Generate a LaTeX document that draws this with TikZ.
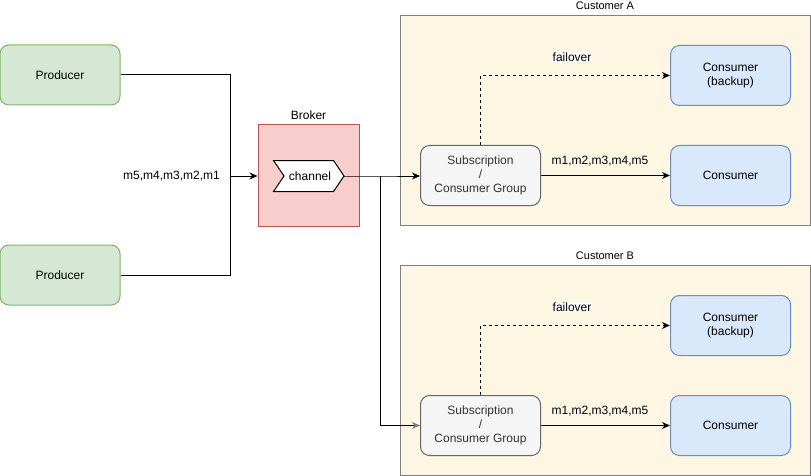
\documentclass[tikz,border=0pt]{standalone}
\usepackage{fontspec}
\setmainfont{Liberation Sans}
\usetikzlibrary{arrows.meta}
\definecolor{prodfill}{HTML}{D5E8D4}
\definecolor{prodline}{HTML}{82B366}
\definecolor{brokfill}{HTML}{F8CECC}
\definecolor{brokline}{HTML}{B85450}
\definecolor{consfill}{HTML}{DAE8FC}
\definecolor{consline}{HTML}{6C8EBF}
\definecolor{subfill}{HTML}{F5F5F5}
\definecolor{subline}{HTML}{666666}
\definecolor{subtext}{HTML}{333333}
\definecolor{custfill}{HTML}{FDF6E3}
\definecolor{custline}{HTML}{808080}
\definecolor{tipgray}{HTML}{7F7F7F}
\tikzset{
  base/.style={font=\fontsize{12}{14}\selectfont, align=center, line width=1pt, inner sep=0pt},
  prodbox/.style={base, draw=prodline, fill=prodfill, rounded corners=9pt,
    minimum width=120pt, minimum height=60pt},
  consbox/.style={base, draw=consline, fill=consfill, rounded corners=9pt,
    minimum width=120pt, minimum height=60pt},
  subbox/.style={base, draw=subline, fill=subfill, text=subtext, rounded corners=9pt,
    minimum width=120pt, minimum height=60pt},
  groupbox/.style={draw=custline, fill=custfill, line width=1pt},
  grouplabel/.style={font=\fontsize{11}{13}\selectfont, inner sep=0pt},
  plainlabel/.style={font=\fontsize{12}{14}\selectfont, inner sep=0pt},
  flow/.style={line width=1pt, -{Stealth[length=8pt,width=7pt,inset=2.5pt]}},
  backupflow/.style={flow, dash pattern=on 3pt off 3pt},
}
\begin{document}
\begin{tikzpicture}[x=1pt, y=-1pt]
\useasboundingbox (0,0) rectangle (811,476);

% customer groups
\draw[groupbox] (400.5,15.5) rectangle (810.5,225.5);
\node[grouplabel] (custA) at (605,6) {Customer A};
\draw[groupbox] (400.5,265.5) rectangle (810.5,475.5);
\node[grouplabel] (custB) at (605,256) {Customer B};

% producers
\node[prodbox] (prod1) at (60,75) {Producer};
\node[prodbox] (prod2) at (60,275) {Producer};

% broker with its channel
\node[base, draw=brokline, fill=brokfill, minimum width=101pt, minimum height=101pt]
  (broker) at (308.5,175.5) {};
\node[grouplabel, font=\fontsize{12}{14}\selectfont] (brokerlbl) at (308.5,115) {Broker};
\draw[line width=1pt, fill=white] (273.5,160.5) -- (333.5,160.5) -- (344,176) --
  (333.5,191.5) -- (273.5,191.5) -- (284,176) -- cycle;
\node[plainlabel] (channel) at (310,176) {channel};
\coordinate (chtip) at (344,176);

% producer feed into the broker
\coordinate (join) at (230.5,176);
\draw[line width=1pt] (prod1.east) -| (join);
\draw[line width=1pt] (prod2.east) -| (join);
\draw[flow] (join) -- (broker.west |- join);
\node[plainlabel, anchor=east] (inmsg) at (220,176) {m5,m4,m3,m2,m1};

% customer A
\node[subbox] (subA) at (480.5,175.5) {Subscription\\/\\Consumer Group};
\node[consbox] (bkA) at (730.5,75.5) {Consumer\\(backup)};
\node[consbox] (conA) at (730.5,175.5) {Consumer};
\draw[backupflow] (subA.north) |- (bkA.west);
\draw[flow] (subA.east) -- (conA.west);
\node[plainlabel, fill=white, inner sep=1pt] (failA) at (572,57) {failover};
\node[plainlabel] (msgA) at (600,161) {m1,m2,m3,m4,m5};

% customer B
\node[subbox] (subB) at (480.5,425.5) {Subscription\\/\\Consumer Group};
\node[consbox] (bkB) at (730.5,325.5) {Consumer\\(backup)};
\node[consbox] (conB) at (730.5,425.5) {Consumer};
\draw[backupflow] (subB.north) |- (bkB.west);
\draw[flow] (subB.east) -- (conB.west);
\node[plainlabel, fill=white, inner sep=1pt] (failB) at (572,307) {failover};
\node[plainlabel] (msgB) at (600,411) {m1,m2,m3,m4,m5};

% broker fan-out to both subscriptions
\coordinate (split) at (380.5,176);
\draw[flow] (chtip) -- (split) -- (subA.west |- split);
\draw[line width=1pt, -{Stealth[length=8pt,width=7pt,inset=2.5pt,fill=tipgray,color=tipgray]}]
  (split) |- (subB.west);
\end{tikzpicture}
\end{document}
